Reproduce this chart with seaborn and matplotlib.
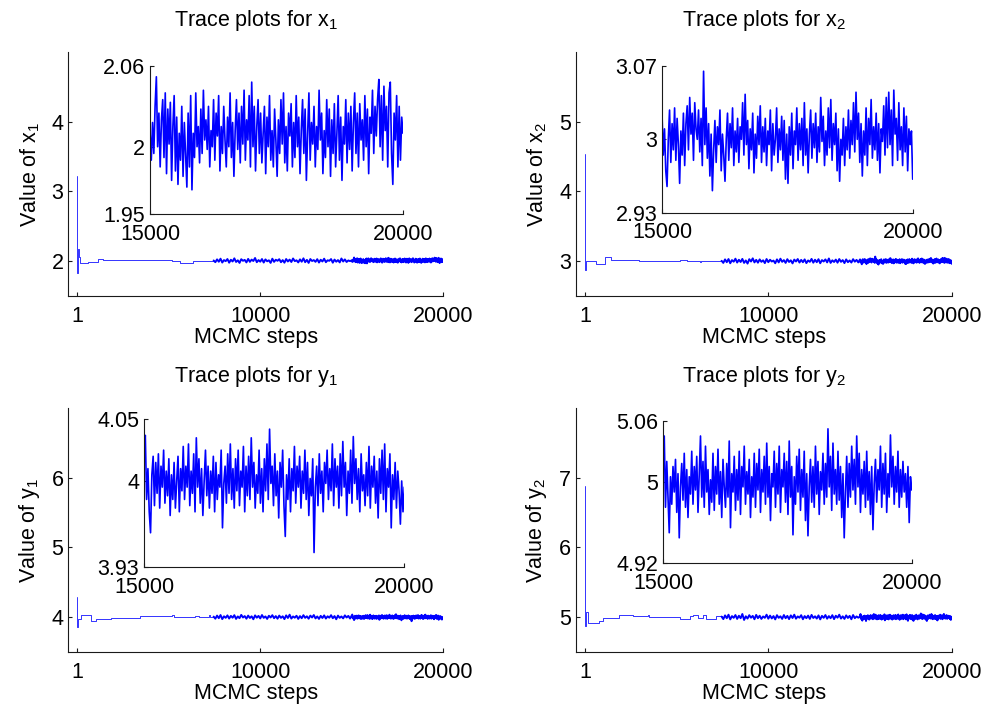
import numpy as np
import pandas as pd
import matplotlib
matplotlib.use("Agg")
import matplotlib.pyplot as plt
import seaborn as sns

# ---------------- data ----------------
# burn-in part of each chain (piecewise constant: step number -> value)
x1_early_steps = [1, 2, 60, 110, 150, 600, 1150, 1420, 5160, 5600, 6170, 6350, 7450]
x1_early_vals = [3.22, 1.83, 2.17, 2.06, 1.967, 1.99, 2.025, 2.01, 1.995, 1.978, 1.967, 2.004, 2.004]

x2_early_steps = [1, 2, 50, 600, 1110, 1400, 2940, 5160, 5550, 6260, 6330, 7450]
x2_early_vals = [4.53, 2.88, 3.005, 2.952, 3.057, 3.014, 3.0, 3.02, 3.005, 2.985, 2.998, 3.0]

y1_early_steps = [1, 2, 20, 200, 770, 1040, 1860, 3450, 5180, 5260, 6460, 6650, 7180, 7260, 7450]
y1_early_vals = [4.29, 3.86, 3.97, 4.024, 3.94, 3.976, 3.99, 4.014, 4.035, 3.995, 4.02, 4.005, 4.03, 4.0, 4.0]

y2_early_steps = [1, 2, 50, 150, 750, 970, 1840, 2610, 3430, 3500, 5160, 5710, 5890, 6190, 6420, 6600, 7170, 7450]
y2_early_vals = [6.88, 4.87, 5.07, 4.92, 4.943, 4.99, 5.03, 5.014, 5.03, 5.005, 4.976, 5.014, 5.035, 4.99, 5.035, 4.976, 5.01, 5.0]

# sampled chain between step 7450 and 15000
x1_mid = [2.010, 1.985, 2.025, 1.992, 2.035, 1.980, 2.015, 2.000, 2.030, 1.978,
          2.020, 1.995, 2.040, 1.988, 2.012, 1.975, 2.028, 2.005, 2.018, 1.982,
          2.032, 1.990, 2.022, 2.002, 2.045, 1.985, 2.015, 1.992, 2.030, 1.980,
          2.025, 1.998, 2.012, 1.975, 2.035, 1.990, 2.020, 2.005, 2.028, 1.985,
          2.015, 1.978, 2.030, 1.995, 2.022, 1.988, 2.038, 2.000, 2.012, 1.982,
          2.025, 1.992, 2.040, 1.985, 2.018, 1.975, 2.030, 2.002, 2.015, 1.990,
          2.028, 1.980, 2.020, 1.995, 2.035, 1.985, 2.012, 2.005, 2.030, 1.978,
          2.022, 1.992, 2.015, 1.982, 2.038, 1.995, 2.025, 1.988, 2.010, 2.000]
x2_mid = [3.005, 2.975, 3.025, 2.985, 3.030, 2.970, 3.015, 2.992, 3.035, 2.980,
          3.020, 2.988, 3.032, 2.975, 3.010, 2.965, 3.028, 2.995, 3.040, 2.982,
          3.018, 2.978, 3.025, 2.990, 3.012, 2.972, 3.030, 2.985, 3.020, 2.995,
          3.008, 2.970, 3.025, 2.982, 3.035, 2.990, 3.015, 2.975, 3.028, 2.988,
          3.012, 2.968, 3.022, 2.995, 3.030, 2.980, 3.018, 2.985, 3.025, 2.972,
          3.010, 2.990, 3.032, 2.978, 3.020, 2.985, 3.028, 2.970, 3.015, 2.995,
          3.025, 2.982, 3.038, 2.975, 3.012, 2.988, 3.022, 2.978, 3.030, 2.990,
          3.015, 2.972, 3.025, 2.985, 3.010, 2.980, 3.028, 2.992, 3.018, 2.982]
y1_mid = [4.008, 3.978, 4.022, 3.985, 4.030, 3.972, 4.012, 3.990, 4.025, 3.980,
          4.018, 3.992, 4.028, 3.975, 4.010, 3.985, 4.032, 3.995, 4.015, 3.978,
          4.022, 3.988, 4.012, 3.970, 4.025, 3.992, 4.018, 3.982, 4.030, 3.990,
          4.010, 3.975, 4.020, 3.995, 4.028, 3.985, 4.015, 3.978, 4.022, 3.990,
          4.012, 3.972, 4.025, 3.988, 4.035, 3.980, 4.010, 3.992, 4.020, 3.975,
          4.015, 3.985, 4.028, 3.990, 4.012, 3.978, 4.022, 3.995, 4.030, 3.982,
          4.010, 3.975, 4.018, 3.988, 4.025, 3.980, 4.012, 3.992, 4.028, 3.985,
          4.015, 3.970, 4.022, 3.990, 4.010, 3.982, 4.025, 3.995, 4.018, 3.980]
y2_mid = [5.008, 4.972, 5.025, 4.985, 5.035, 4.968, 5.015, 4.990, 5.030, 4.975,
          5.020, 4.985, 5.045, 4.960, 5.012, 4.980, 5.028, 4.992, 5.018, 4.970,
          5.032, 4.985, 5.020, 4.975, 5.010, 4.990, 5.035, 4.978, 5.022, 4.982,
          5.015, 4.968, 5.028, 4.990, 5.012, 4.975, 5.030, 4.985, 5.018, 4.972,
          5.025, 4.988, 5.035, 4.978, 5.010, 4.992, 5.028, 4.970, 5.015, 4.985,
          5.022, 4.975, 5.032, 4.988, 5.012, 4.980, 5.025, 4.968, 5.018, 4.990,
          5.030, 4.978, 5.015, 4.985, 5.028, 4.972, 5.020, 4.992, 5.035, 4.980,
          5.012, 4.975, 5.025, 4.988, 5.018, 4.970, 5.030, 4.985, 5.010, 4.992]

# last 5000 steps (shown zoomed in the insets)
x1_tail = [2.012, 1.990, 2.018, 1.995, 2.030, 2.052, 2.000, 2.025, 1.985, 2.020,
           2.035, 1.992, 2.040, 1.980, 2.028, 2.002, 2.033, 1.975, 2.015, 2.038,
           1.982, 2.022, 1.972, 2.010, 1.990, 2.030, 1.978, 2.018, 1.995, 1.970,
           2.025, 1.985, 2.038, 1.968, 2.010, 1.992, 2.040, 2.000, 2.015, 1.988,
           2.028, 1.995, 2.042, 2.005, 2.020, 1.998, 2.030, 1.985, 2.012, 2.000,
           2.035, 1.990, 2.025, 2.008, 2.038, 1.982, 2.015, 1.995, 2.030, 2.005,
           1.985, 2.022, 2.000, 2.040, 1.992, 2.018, 1.978, 2.012, 2.035, 1.998,
           2.025, 1.988, 2.030, 2.002, 2.042, 1.990, 2.020, 2.005, 2.038, 1.985,
           2.048, 2.000, 2.030, 1.982, 2.015, 2.035, 1.995, 2.025, 1.988, 2.010,
           2.030, 1.980, 2.022, 2.000, 2.038, 1.990, 2.012, 1.985, 2.028, 2.005,
           1.978, 2.020, 1.995, 2.035, 2.002, 2.040, 1.988, 2.015, 1.982, 2.025,
           2.008, 2.032, 1.985, 2.018, 1.992, 2.038, 2.000, 2.022, 1.980, 2.012,
           2.035, 1.995, 2.028, 1.975, 2.010, 2.040, 1.990, 2.018, 2.002, 2.030,
           1.985, 2.015, 1.998, 2.042, 2.005, 2.025, 1.980, 2.012, 1.992, 2.035,
           2.000, 2.028, 1.978, 2.020, 1.995, 2.032, 1.985, 2.010, 2.038, 1.990,
           2.022, 1.975, 2.015, 2.002, 2.035, 1.988, 2.025, 1.998, 2.030, 1.982,
           2.018, 2.040, 1.995, 2.025, 1.985, 2.032, 2.005, 2.020, 1.990, 2.038,
           2.000, 2.028, 1.980, 2.022, 2.010, 2.042, 1.995, 2.030, 2.008, 2.035,
           2.050, 2.000, 2.038, 1.990, 2.045, 2.012, 2.030, 1.985, 2.040, 2.048,
           1.995, 1.972, 2.025, 2.005, 2.038, 1.985, 2.030, 1.990, 2.022, 2.010]
x2_tail = [3.025, 2.985, 3.010, 2.970, 2.955, 3.000, 3.028, 2.978, 3.015, 2.990,
           3.030, 2.980, 3.020, 2.995, 2.958, 3.008, 2.985, 3.025, 2.975, 3.015,
           3.032, 2.990, 3.040, 3.005, 3.025, 2.980, 3.035, 3.010, 3.000, 3.028,
           2.988, 3.020, 2.975, 3.065, 2.995, 3.030, 2.982, 3.015, 2.965, 3.005,
           2.951, 2.990, 3.018, 2.978, 3.012, 2.995, 3.028, 2.970, 3.005, 2.985,
           2.960, 3.000, 3.025, 2.980, 3.015, 2.992, 3.030, 2.975, 3.008, 2.988,
           3.020, 2.978, 3.012, 3.000, 3.035, 2.985, 3.043, 2.995, 3.018, 2.972,
           3.010, 2.990, 3.025, 2.968, 3.005, 2.982, 3.022, 2.995, 3.032, 2.978,
           3.012, 2.988, 3.020, 2.975, 3.008, 2.995, 3.028, 2.970, 3.015, 2.985,
           3.000, 3.030, 2.978, 3.010, 2.990, 3.022, 2.980, 3.018, 2.962, 3.005,
           2.958, 3.012, 2.985, 3.025, 2.972, 3.008, 2.995, 3.030, 2.980, 3.015,
           2.990, 3.020, 2.975, 3.035, 2.985, 3.010, 2.968, 3.005, 3.028, 2.982,
           3.015, 2.992, 3.025, 2.978, 3.012, 2.988, 3.040, 2.998, 3.022, 2.975,
           3.008, 2.985, 3.030, 2.992, 3.038, 2.980, 3.015, 2.995, 3.025, 2.970,
           3.010, 2.960, 3.000, 2.985, 3.020, 2.975, 3.012, 2.990, 3.028, 2.982,
           3.018, 2.995, 3.035, 2.988, 3.045, 3.000, 3.025, 2.978, 3.015, 2.965,
           3.008, 2.985, 3.030, 2.975, 3.020, 2.995, 3.038, 2.982, 3.012, 2.990,
           3.025, 2.980, 3.015, 2.968, 3.010, 2.998, 3.032, 2.985, 3.040, 2.992,
           3.045, 2.995, 3.028, 2.975, 3.047, 3.005, 3.020, 2.980, 3.035, 2.990,
           3.012, 2.975, 3.030, 2.988, 3.022, 2.970, 3.010, 2.995, 3.008, 2.962]
y1_tail = [4.025, 4.037, 3.985, 4.010, 3.975, 3.958, 4.005, 4.020, 3.980, 4.015,
           3.990, 4.022, 3.978, 4.012, 3.995, 4.025, 3.982, 4.008, 3.988, 4.018,
           3.972, 4.005, 3.985, 4.015, 3.978, 4.000, 4.020, 3.975, 4.010, 3.992,
           4.028, 3.985, 4.012, 3.995, 4.030, 3.980, 4.008, 3.990, 4.022, 3.975,
           4.035, 3.995, 4.018, 3.982, 4.010, 3.972, 4.000, 4.025, 3.988, 4.012,
           3.978, 4.008, 3.990, 4.020, 3.975, 4.015, 3.985, 4.005, 3.995, 4.025,
           3.962, 3.998, 4.012, 3.982, 4.022, 3.990, 4.030, 3.985, 4.010, 3.978,
           4.018, 3.992, 4.025, 3.980, 4.008, 3.995, 4.028, 3.975, 4.012, 3.988,
           4.020, 3.985, 4.035, 3.995, 4.015, 3.978, 4.005, 3.990, 4.025, 3.982,
           4.010, 3.975, 4.018, 3.992, 4.030, 3.985, 4.042, 3.998, 4.012, 3.980,
           4.022, 3.988, 4.008, 3.970, 4.015, 3.995, 4.025, 3.980, 3.955, 4.005,
           3.985, 4.018, 3.975, 4.010, 3.992, 4.028, 3.982, 4.012, 3.995, 4.020,
           3.978, 4.008, 3.990, 4.025, 3.985, 4.015, 3.972, 4.002, 3.988, 4.018,
           3.942, 3.995, 4.012, 3.980, 4.022, 3.990, 4.008, 3.975, 4.015, 3.998,
           4.025, 3.985, 4.010, 3.992, 4.030, 3.980, 4.018, 3.995, 4.012, 3.978,
           4.022, 3.988, 4.032, 3.995, 4.015, 3.972, 4.008, 3.990, 4.025, 3.982,
           4.036, 3.998, 4.018, 3.985, 4.010, 3.975, 4.022, 3.992, 4.005, 3.980,
           4.015, 3.988, 4.028, 3.978, 4.012, 3.995, 4.020, 3.982, 4.008, 3.970,
           4.018, 3.990, 4.025, 3.985, 4.030, 3.975, 4.010, 3.995, 4.022, 3.962,
           4.005, 3.985, 4.015, 3.978, 4.008, 3.992, 3.965, 4.000, 3.975, 3.995]
y2_tail = [5.010, 5.045, 4.975, 5.020, 4.985, 4.950, 5.005, 4.978, 5.015, 4.990,
           5.022, 4.970, 5.008, 4.945, 4.995, 5.018, 4.982, 5.028, 4.975, 5.012,
           4.965, 5.005, 4.988, 5.030, 4.978, 5.015, 4.992, 5.025, 4.970, 5.008,
           5.045, 4.985, 5.020, 4.975, 5.035, 4.990, 5.012, 4.968, 5.002, 4.980,
           5.028, 4.972, 5.015, 4.988, 5.032, 4.978, 5.010, 4.965, 5.022, 4.995,
           4.975, 5.018, 4.985, 5.040, 4.955, 5.008, 4.990, 5.025, 4.972, 5.012,
           4.982, 5.030, 4.968, 5.015, 4.995, 5.035, 4.978, 5.010, 4.988, 5.022,
           4.965, 5.005, 4.985, 5.028, 4.975, 5.018, 4.992, 5.032, 4.970, 5.012,
           4.990, 5.025, 4.978, 5.038, 4.985, 5.015, 4.962, 5.008, 4.995, 5.030,
           4.975, 5.018, 4.988, 5.035, 4.970, 5.012, 4.995, 5.028, 4.980, 5.020,
           4.968, 5.040, 4.985, 5.015, 4.948, 5.005, 4.978, 5.025, 4.990, 5.032,
           4.972, 5.012, 4.985, 5.030, 4.962, 5.008, 4.947, 4.995, 5.022, 4.980,
           5.015, 4.975, 5.035, 4.988, 5.020, 4.968, 5.010, 4.992, 5.028, 4.978,
           5.018, 4.985, 5.052, 4.995, 5.025, 4.972, 5.038, 4.988, 5.012, 4.978,
           5.030, 4.982, 5.015, 4.965, 5.008, 4.945, 4.990, 5.025, 4.975, 5.018,
           4.985, 5.035, 4.992, 5.022, 4.978, 5.045, 4.995, 5.028, 4.970, 5.012,
           4.988, 5.020, 4.975, 5.030, 4.982, 5.010, 4.968, 5.015, 4.953, 4.998,
           5.022, 4.980, 5.012, 4.992, 5.035, 4.975, 5.018, 4.988, 5.028, 4.970,
           5.008, 4.985, 5.046, 4.995, 5.025, 4.978, 5.015, 4.990, 5.030, 4.975,
           5.012, 4.985, 5.020, 4.990, 5.008, 4.975, 5.015, 4.960, 5.005, 4.992]

var_names = ["x", "x", "y", "y"]
var_subs = ["1", "2", "1", "2"]
main_yticks = [[2, 3, 4], [3, 4, 5], [4, 5, 6], [5, 6, 7]]
inset_yticks = [[1.95, 2, 2.06], [2.93, 3, 3.07], [3.93, 4, 4.05], [4.92, 5, 5.06]]
inset_yticklabels = [["1.95", "2", "2.06"], ["2.93", "3", "3.07"],
                     ["3.93", "4", "4.05"], ["4.92", "5", "5.06"]]
main_xticks = [1, 10000, 20000]
inset_xticks = [15000, 20000]

early_steps = [x1_early_steps, x2_early_steps, y1_early_steps, y2_early_steps]
early_vals = [x1_early_vals, x2_early_vals, y1_early_vals, y2_early_vals]
mids = [x1_mid, x2_mid, y1_mid, y2_mid]
tails = [x1_tail, x2_tail, y1_tail, y2_tail]

# ---------------- styling / layout ----------------
sns.set_theme(style="ticks")
plt.rcParams.update({
    "font.family": ["Liberation Sans", "DejaVu Sans"],
    "mathtext.fontset": "custom",
    "mathtext.rm": "Liberation Sans",
    "mathtext.it": "Liberation Sans:italic",
    "mathtext.default": "regular",
    "font.size": 15.5,
    "text.color": "black",
    "axes.labelcolor": "black",
    "axes.titlecolor": "black",
    "axes.edgecolor": "#1a1a1a",
    "axes.linewidth": 0.8,
    "xtick.color": "#1a1a1a",
    "ytick.color": "#1a1a1a",
    "xtick.labelcolor": "black",
    "ytick.labelcolor": "black",
    "xtick.direction": "in",
    "ytick.direction": "in",
    "xtick.major.size": 3,
    "ytick.major.size": 3,
    "xtick.major.width": 0.8,
    "ytick.major.width": 0.8,
    "xtick.labelsize": 15.5,
    "ytick.labelsize": 15.5,
    "axes.labelsize": 15.5,
    "axes.titlesize": 15.5,
})

W, H = 985, 707
fig = plt.figure(figsize=(W / 100, H / 100), dpi=100)
fig.patch.set_facecolor("white")


def rect(l, r, t, b):
    return [l / W, 1 - b / H, (r - l) / W, (b - t) / H]


main_rects = [rect(68.3, 443.3, 52, 296), rect(576, 951.7, 52, 296),
              rect(68.3, 443.3, 408, 652), rect(576, 951.7, 408, 652)]
inset_rects = [rect(150, 403, 66, 214), rect(662, 912.7, 66, 212.7),
               rect(144, 404.3, 419.3, 567.3), rect(663, 911.7, 420.7, 563.3)]
main_ylims = [(1.5, 5), (2.5, 6), (3.5, 7), (4.5, 8)]
blue = "#0000ff"

for i in range(4):
    mid_steps = np.linspace(7450, 15000, len(mids[i]), endpoint=False)
    tail_steps = np.linspace(15000, 20000, len(tails[i]))
    df_early = pd.DataFrame({"step": early_steps[i], "value": early_vals[i]})
    df_dense = pd.DataFrame({"step": np.concatenate([mid_steps, tail_steps]),
                             "value": list(mids[i]) + list(tails[i])})
    df_tail = pd.DataFrame({"step": tail_steps, "value": tails[i]})

    ax = fig.add_axes(main_rects[i])
    ax.set_facecolor("white")
    sns.lineplot(data=df_early, x="step", y="value", ax=ax, color=blue,
                 linewidth=0.7, drawstyle="steps-post", estimator=None,
                 legend=False, alpha=0.8)
    sns.lineplot(data=df_dense, x="step", y="value", ax=ax, color=blue,
                 linewidth=1.4, estimator=None, legend=False)
    ax.set_xlim(-490, 20000)
    ax.set_ylim(*main_ylims[i])
    ax.set_xticks(main_xticks)
    ax.set_xticklabels([str(t) for t in main_xticks])
    ax.set_yticks(main_yticks[i])
    ax.set_yticklabels([str(t) for t in main_yticks[i]])
    ax.tick_params(axis="x", pad=7.5)
    ax.tick_params(axis="y", pad=3.5)
    sns.despine(ax=ax)
    ax.set_xlabel("MCMC steps", labelpad=0)
    ax.set_ylabel("Value of %s$_{%s}$" % (var_names[i], var_subs[i]), labelpad=7)
    ax.set_title("Trace plots for %s$_{%s}$" % (var_names[i], var_subs[i]), pad=19)

    ins = fig.add_axes(inset_rects[i])
    ins.set_facecolor("white")
    sns.lineplot(data=df_tail, x="step", y="value", ax=ins, color=blue,
                 linewidth=1.2, estimator=None, legend=False)
    ins.set_xlim(15000, 20000)
    ins.set_ylim(inset_yticks[i][0], inset_yticks[i][-1])
    ins.set_xticks(inset_xticks)
    ins.set_xticklabels([str(t) for t in inset_xticks])
    ins.set_yticks(inset_yticks[i])
    ins.set_yticklabels(inset_yticklabels[i])
    ins.tick_params(axis="x", pad=7)
    ins.tick_params(axis="y", pad=3.5)
    ins.set_xlabel("")
    ins.set_ylabel("")
    sns.despine(ax=ins)

fig.savefig("out.png", dpi=100, facecolor="white")
